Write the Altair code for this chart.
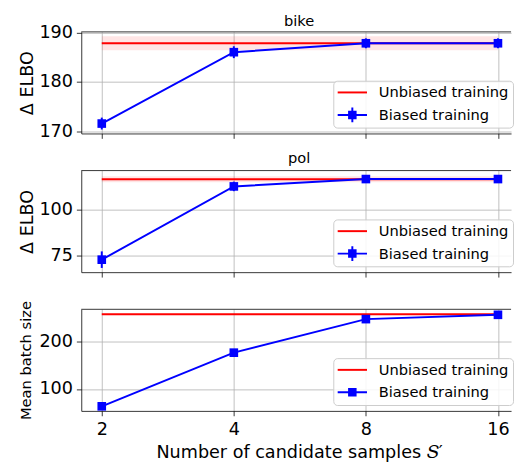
import altair as alt
import pandas as pd

# ---------------- data ----------------
x_vals = [2, 4, 8, 16]
series_names = ["Unbiased training", "Biased training"]

bike_unbiased = [187.8, 187.8, 187.8, 187.8]
bike_unbiased_err = [1.4, 1.4, 1.4, 1.4]
bike_biased = [171.6, 186.0, 187.8, 187.8]
bike_biased_err = [1.2, 1.2, 1.0, 1.0]

pol_unbiased = [116.7, 116.7, 116.7, 116.7]
pol_unbiased_err = [1.6, 1.6, 1.6, 1.6]
pol_biased = [73.0, 112.8, 116.8, 116.8]
pol_biased_err = [4.5, 2.6, 1.5, 1.5]

batch_unbiased = [256, 256, 256, 256]
batch_unbiased_err = [0, 0, 0, 0]
batch_biased = [64, 176, 246, 255]
batch_biased_err = [0, 0, 0, 0]

x_tick_labels = [2, 4, 8, 16]

# ---------------- style ----------------
FONT = "DejaVu Sans"
RED = "#ff0000"
BLUE = "#0000ff"
W, H = 440, 104
X_DOMAIN = [1.796, 17.14]

# legend symbols (unit coords, scaled by sqrt(size)/2 = 7.5 px)
SYM_LINE = "M-1,-0.133L3,-0.133L3,0.133L-1,0.133Z"
SYM_SQ = "M0.42,-0.58L1.58,-0.58L1.58,0.58L0.42,0.58Z"
SYM_BAR = "M0.867,-1L1.133,-1L1.133,1L0.867,1Z"


def make_df(unb, unb_err, bia, bia_err):
    rows = []
    for i, x in enumerate(x_vals):
        rows.append(dict(x=x, series=series_names[0], v=unb[i],
                         lo=unb[i] - unb_err[i], hi=unb[i] + unb_err[i]))
        rows.append(dict(x=x, series=series_names[1], v=bia[i],
                         lo=bia[i] - bia_err[i], hi=bia[i] + bia_err[i]))
    return pd.DataFrame(rows)


def panel(title, title_dy, ytitle, ytitle_size, ytitle_pad, df, ydomain, yticks,
          show_xlabels, errbars, band):
    base = alt.Chart(df)
    xs = alt.Scale(type="log", base=2, domain=X_DOMAIN, nice=False)
    ys = alt.Scale(domain=ydomain, nice=False, zero=False)

    x_axis = alt.Axis(values=x_tick_labels, labels=show_xlabels, ticks=True,
                      tickSize=5, tickColor="#000", tickWidth=0.8,
                      grid=True, gridColor="#b0b0b0", gridWidth=0.8,
                      domain=True, domainColor="#000", domainWidth=0.8,
                      labelFont=FONT, labelFontSize=18, labelColor="#000",
                      labelPadding=5, labelFlush=False,
                      title="Number of candidate samples 𝑆′" if show_xlabels else None,
                      titleFont=FONT, titleFontSize=18, titleFontWeight="normal",
                      titleColor="#000", titlePadding=6, titleX=223)
    y_axis = alt.Axis(values=yticks, ticks=True, tickSize=5, tickColor="#000",
                      tickWidth=0.8, grid=True, gridColor="#b0b0b0", gridWidth=0.8,
                      domain=True, domainColor="#000", domainWidth=0.8,
                      labelFont=FONT, labelFontSize=18, labelColor="#000",
                      labelPadding=4, title=ytitle, titleFont=FONT,
                      titleFontSize=ytitle_size, titleFontWeight="normal",
                      titleColor="#000", titlePadding=ytitle_pad)

    unb = base.transform_filter(alt.datum.series == series_names[0])
    bia = base.transform_filter(alt.datum.series == series_names[1])

    def Y(field):
        return alt.Y(field, scale=ys, axis=y_axis)

    def X():
        return alt.X("x:Q", scale=xs, axis=x_axis)

    layers = []
    layers.append(unb.mark_area(color=RED, opacity=0.1 if band else 0).encode(
        x=X(), y=Y("lo:Q"), y2="hi:Q"))
    # top frame line along the upper end of the y domain
    layers.append(alt.Chart().mark_rule(color="#000", strokeWidth=0.8).encode(
        x=alt.X(datum=X_DOMAIN[0], scale=xs, axis=x_axis),
        x2=alt.X2(datum=X_DOMAIN[1]),
        y=alt.Y(datum=ydomain[1], scale=ys, axis=y_axis)))
    layers.append(unb.mark_line(color=RED, strokeWidth=2).encode(
        x=X(), y=Y("v:Q")))
    layers.append(bia.mark_line(color=BLUE, strokeWidth=2).encode(
        x=X(), y=Y("v:Q")))
    if errbars:
        layers.append(bia.mark_rule(color=BLUE, strokeWidth=2).encode(
            x=X(), y=Y("lo:Q"), y2="hi:Q"))
    layers.append(bia.mark_point(shape="square", filled=True, size=78,
                                 color=BLUE, opacity=1).encode(
        x=X(), y=Y("v:Q")))
    # legend-only layer (no data rows)
    blue_sym = SYM_LINE + SYM_SQ + (SYM_BAR if errbars else "")
    layers.append(base.transform_filter("false").mark_point(
        filled=True, opacity=1).encode(
        x=X(), y=Y("v:Q"),
        color=alt.Color("series:N", scale=alt.Scale(domain=series_names,
                        range=[RED, BLUE]), legend=alt.Legend(
                        orient="none", legendX=258, legendY=50, title=None)),
        shape=alt.Shape("series:N", scale=alt.Scale(domain=series_names,
                        range=[SYM_LINE, blue_sym]), legend=alt.Legend(
                        orient="none", legendX=258, legendY=50, title=None)),
    ))
    ch = alt.layer(*layers).properties(width=W, height=H)
    if title:
        ch = ch.properties(title=alt.TitleParams(
            title, font=FONT, fontSize=15, fontWeight="normal", color="#000",
            anchor="middle", offset=4, dx=3, dy=title_dy, frame="group"))
    return ch


p1 = panel("bike", 9, "Δ ELBO", 18, 3,
           make_df(bike_unbiased, bike_unbiased_err, bike_biased, bike_biased_err),
           [169.6, 190.1], [170, 180, 190], False, True, True)
p2 = panel("pol", 0, "Δ ELBO", 18, 3,
           make_df(pol_unbiased, pol_unbiased_err, pol_biased, pol_biased_err),
           [66.2, 121.4], [75, 100], False, True, True)
p3 = panel(None, 0, "Mean batch size", 15, 6,
           make_df(batch_unbiased, batch_unbiased_err, batch_biased, batch_biased_err),
           [54.5, 266.5], [100, 200], True, False, False)

chart = alt.vconcat(p1, p2, p3, spacing=38, bounds="flush").resolve_scale(
    y="independent", shape="independent"
).resolve_legend(color="independent", shape="independent").configure_view(
    stroke=None
).configure_legend(
    labelFont=FONT, labelFontSize=15, labelColor="#000", labelLimit=400,
    labelOffset=27, symbolSize=225, symbolStrokeWidth=0, symbolOpacity=1,
    rowPadding=7, padding=4.5, fillColor="rgba(255,255,255,0.85)",
    strokeColor="#cccccc", cornerRadius=4
).properties(padding={"left": 10, "top": 0, "right": 0, "bottom": 0})

chart.save("out.html", embed_options={"renderer": "svg", "actions": False})
